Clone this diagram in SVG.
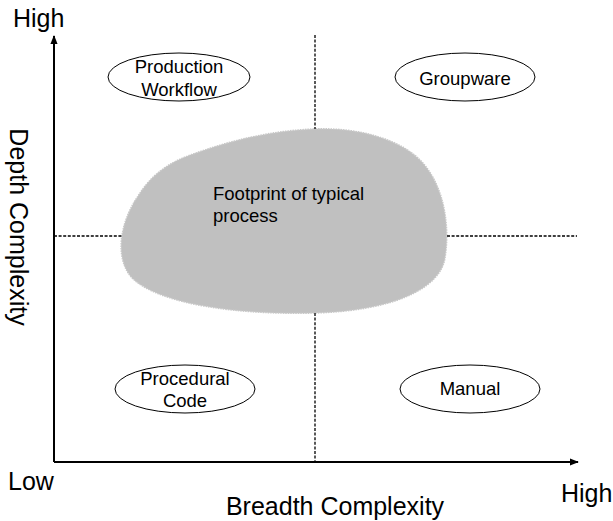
<svg xmlns="http://www.w3.org/2000/svg" width="613" height="521" viewBox="0 0 613 521">
<style>
text{font-family:"Liberation Sans",Arial,sans-serif;fill:#000}
.lbl{font-size:18.5px;text-anchor:middle}
.ax{font-size:25px}
.ell{fill:#fff;stroke:#000;stroke-width:1}
.dash{stroke:#000;stroke-width:1.3;stroke-dasharray:3 1.6;fill:none}
.axis{stroke:#000;stroke-width:2;fill:none}
</style>
<defs>
<marker id="ah" viewBox="0 0 10 10" refX="9" refY="5" markerWidth="4.5" markerHeight="4.5" orient="auto" markerUnits="strokeWidth">
<path d="M0,1 L10,5 L0,9 Z" fill="#000"/>
</marker>
</defs>
<rect width="613" height="521" fill="#fff"/>
<g id="blob">
<path d="M313 129 C360 127 402 140 422 162 C445 187 450 228 445 258 C440 290 390 311 315 313 C240 315 160 305 132 278 C114 258 120 222 138 196 C152 174 168 164 185 157 C230 140 270 131 313 129 Z" fill="#c0c0c0" stroke="#c8c8c8" stroke-width="1.5" stroke-dasharray="1.5 1"/>
<text x="213" y="200" font-size="18.5">Footprint of typical</text>
<text x="213" y="222" font-size="18.5">process</text>
</g>
<g id="connectors">
<line class="dash" x1="315" y1="35" x2="315" y2="129"/>
<line class="dash" x1="315" y1="313" x2="315" y2="462"/>
<line class="dash" x1="54" y1="236" x2="122" y2="236"/>
<line class="dash" x1="447" y1="236" x2="577" y2="236"/>
<line class="axis" x1="54" y1="462" x2="54" y2="36" marker-end="url(#ah)"/>
<line class="axis" x1="54" y1="462" x2="578" y2="462" marker-end="url(#ah)"/>
</g>
<g id="production-workflow">
<ellipse class="ell" cx="179" cy="77" rx="71" ry="24"/>
<text class="lbl" x="179" y="73">Production</text>
<text class="lbl" x="179" y="96">Workflow</text>
</g>
<g id="groupware">
<ellipse class="ell" cx="465" cy="77" rx="70" ry="24"/>
<text class="lbl" x="465" y="85">Groupware</text>
</g>
<g id="procedural-code">
<ellipse class="ell" cx="185" cy="389" rx="70" ry="24"/>
<text class="lbl" x="185" y="385">Procedural</text>
<text class="lbl" x="185" y="407">Code</text>
</g>
<g id="manual">
<ellipse class="ell" cx="470" cy="389" rx="70" ry="24"/>
<text class="lbl" x="470" y="395">Manual</text>
</g>
<g id="axis-labels">
<text class="ax" x="13" y="27">High</text>
<text class="ax" x="8" y="490">Low</text>
<text class="ax" x="561" y="502">High</text>
<text class="ax" x="335" y="515" text-anchor="middle">Breadth Complexity</text>
<text class="ax" x="0" y="0" text-anchor="middle" transform="translate(10 227) rotate(90)">Depth Complexity</text>
</g>
</svg>
